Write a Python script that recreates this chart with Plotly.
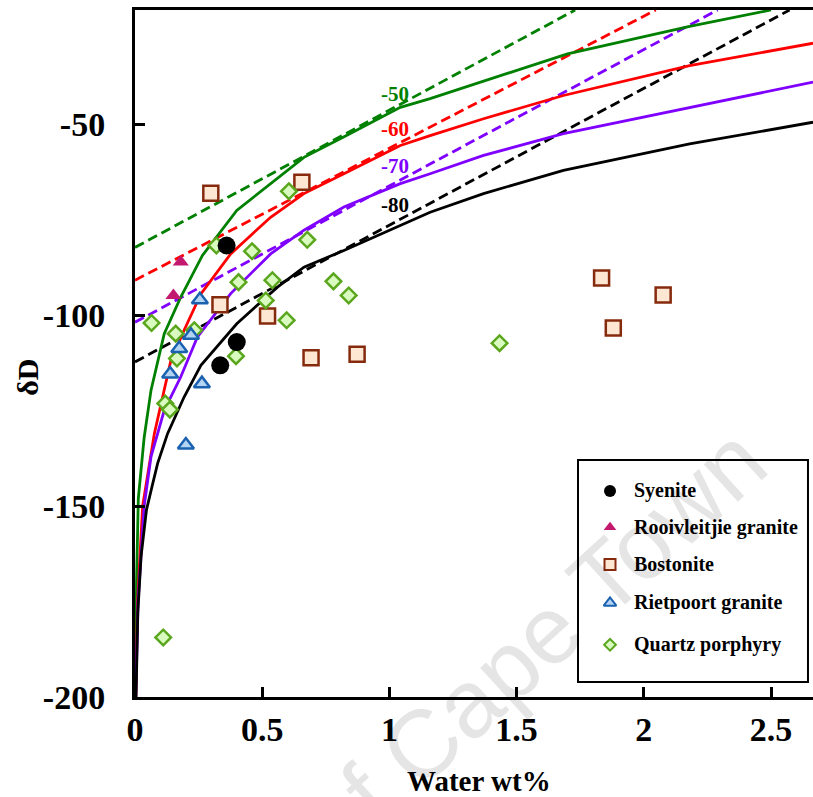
import plotly.graph_objects as go

# ---- axis ticks ----
x_tickvals = [0, 0.5, 1, 1.5, 2, 2.5]
x_ticktext = ["0", "0.5", "1", "1.5", "2", "2.5"]
y_tickvals = [-200, -150, -100, -50]
y_ticktext = ["-200", "-150", "-100", "-50"]

# ---- open-system degassing curves (initial δD -50, -60, -70, -80) ----
curve_names = ["-50", "-60", "-70", "-80"]
curve_colors = ["#008000", "#ff0000", "#7f00ff", "#000000"]

open50_x = [0.002, 0.006, 0.013, 0.036, 0.063, 0.115, 0.18, 0.265, 0.40, 0.546,
            0.664, 0.82, 1.043, 1.16, 1.70, 2.18, 2.50]
open50_y = [-200, -170, -148, -132, -119.6, -104.8, -95.2, -84.3, -72.5, -64.7,
            -58.6, -53.3, -45.5, -43.2, -31.5, -24.3, -20]

open60_x = [0.003, 0.01, 0.03, 0.076, 0.141, 0.193, 0.259, 0.376, 0.533, 0.664,
            0.821, 1.043, 1.16, 1.37, 1.684, 2.18, 2.665]
open60_y = [-200, -175, -150, -131, -111.8, -103.9, -94.4, -83.9, -74.3, -68.1,
            -62.9, -55.5, -52.9, -48.5, -42.4, -34.6, -28.7]

open70_x = [0.003, 0.012, 0.036, 0.063, 0.115, 0.18, 0.245, 0.376, 0.533, 0.664,
            0.821, 1.043, 1.16, 1.37, 1.684, 2.18, 2.665]
open70_y = [-200, -175, -150, -137, -124.9, -116.1, -105.7, -94.3, -83.9, -77.7,
            -71.6, -65.5, -62.9, -58.1, -52.4, -45.5, -38.9]

open80_x = [0.004, 0.011, 0.024, 0.045, 0.07, 0.089, 0.128, 0.193, 0.259, 0.40,
            0.56, 0.664, 0.821, 1.043, 1.16, 1.37, 1.684, 2.18, 2.665]
open80_y = [-200, -178, -163, -151, -144, -138.8, -131, -121.4, -113.1, -102.2,
            -92.6, -87.4, -83, -76.4, -73, -68.1, -62, -55.1, -49.4]

# ---- closed-system degassing lines ----
closed50_x = [0, 1.73]
closed50_y = [-82.2, -20]
closed60_x = [0, 2.047]
closed60_y = [-90.8, -20]
closed70_x = [0, 2.29]
closed70_y = [-101.8, -20]
closed80_x = [0, 2.573]
closed80_y = [-112.2, -20]

# ---- samples ----
syenite_x = [0.36, 0.40, 0.335]
syenite_y = [-81.7, -107.0, -113.1]

rooivleitjie_x = [0.18, 0.151]
rooivleitjie_y = [-86.0, -94.8]

bostonite_x = [0.298, 0.656, 0.334, 0.521, 0.692, 0.873, 1.834, 2.076, 1.88]
bostonite_y = [-68.0, -65.1, -97.2, -100.2, -111.1, -110.2, -90.2, -94.7, -103.3]

rietpoort_x = [0.255, 0.22, 0.174, 0.138, 0.263, 0.20]
rietpoort_y = [-95.9, -105.2, -108.7, -115.4, -117.9, -134.0]

quartz_x = [0.605, 0.32, 0.46, 0.677, 0.407, 0.54, 0.78, 0.84, 0.514, 0.596,
            0.065, 0.16, 0.233, 0.165, 0.397, 0.119, 0.137, 1.433, 0.111]
quartz_y = [-67.5, -81.7, -83.2, -80.2, -91.3, -90.8, -91.1, -94.8, -96.1, -101.3,
            -102.0, -104.8, -103.9, -111.3, -110.7, -123.1, -124.7, -107.3, -184.4]

legend_names = ["Syenite", "Rooivleitjie granite", "Bostonite",
                "Rietpoort granite", "Quartz porphyry"]

SERIF = "Liberation Serif"

fig = go.Figure()

closed = [(closed50_x, closed50_y), (closed60_x, closed60_y),
          (closed70_x, closed70_y), (closed80_x, closed80_y)]
opened = [(open50_x, open50_y), (open60_x, open60_y),
          (open70_x, open70_y), (open80_x, open80_y)]

for (xs, ys), col in zip(closed, curve_colors):
    fig.add_trace(go.Scatter(x=xs, y=ys, mode="lines", showlegend=False,
                             line=dict(color=col, width=2.8, dash="10px,5px")))
for (xs, ys), col in zip(opened, curve_colors):
    fig.add_trace(go.Scatter(x=xs, y=ys, mode="lines", showlegend=False,
                             line=dict(color=col, width=2.8)))

# marker styles: (symbol, size, fill, edge, edge width)
styles = [
    ("circle", 18, "#000000", "#000000", 0),
    ("triangle-up", 14, "#c2186e", "#c2186e", 0),
    ("square", 15, "#fde6d2", "#862a0e", 2.5),
    ("triangle-up", 14, "#b4d4f4", "#1a62b0", 2.5),
    ("diamond", 12, "#d9fbc0", "#5aa61c", 2.5),
]
samples = [(syenite_x, syenite_y), (rooivleitjie_x, rooivleitjie_y),
           (bostonite_x, bostonite_y), (rietpoort_x, rietpoort_y),
           (quartz_x, quartz_y)]
draw_order = [2, 4, 3, 1, 0]
for i in draw_order:
    xs, ys = samples[i]
    sym, size, fill, edge, lw = styles[i]
    fig.add_trace(go.Scatter(x=xs, y=ys, mode="markers", showlegend=False,
                             name=legend_names[i], cliponaxis=False,
                             marker=dict(symbol=sym, size=size, color=fill,
                                         line=dict(color=edge, width=lw))))

# ---- legend box, drawn on an overlay axis spanning the plot area ----
leg_marker_x = 0.7006
leg_text_x = 0.733
leg_rows = [0.300, 0.247, 0.193, 0.137, 0.076]
leg_sizes = [12, 11, 11, 11, 9]
for i, name in enumerate(legend_names):
    sym, _, fill, edge, lw = styles[i]
    fig.add_trace(go.Scatter(x=[leg_marker_x], y=[leg_rows[i]], xaxis="x2", yaxis="y2",
                             mode="markers", showlegend=False, cliponaxis=False,
                             marker=dict(symbol=sym, size=leg_sizes[i], color=fill,
                                         line=dict(color=edge, width=min(lw, 2)))))
    fig.add_annotation(x=leg_text_x, y=leg_rows[i], xref="paper", yref="paper",
                       text=name, showarrow=False, xanchor="left", yanchor="middle",
                       font=dict(family=SERIF, size=20, color="black", weight="bold"))

fig.add_shape(type="rect", xref="paper", yref="paper",
              x0=0.6534, x1=0.9926, y0=0.0218, y1=0.345,
              line=dict(color="black", width=2), fillcolor="white", layer="below")

# ---- curve labels ----
label_pos = [(1.0235, -41.9), (1.0235, -51.3), (1.0235, -61.0), (1.0235, -71.2)]
for name, col, (lx, ly) in zip(curve_names, curve_colors, label_pos):
    fig.add_annotation(x=lx, y=ly, text=name, showarrow=False,
                       xanchor="center", yanchor="middle",
                       font=dict(family=SERIF, size=21, color=col, weight="bold"))

# ---- axis titles ----
fig.add_annotation(x=0.507, y=-0.122, xref="paper", yref="paper", text="Water wt%",
                   showarrow=False, xanchor="center", yanchor="middle",
                   font=dict(family=SERIF, size=29, color="black", weight="bold"))
fig.add_annotation(x=-0.159, y=0.465, xref="paper", yref="paper", text="δD",
                   showarrow=False, xanchor="center", yanchor="middle", textangle=-90,
                   font=dict(family=SERIF, size=30, color="black", weight="bold"))

# ---- watermark ----
fig.add_annotation(x=0.343, y=-0.140, xref="paper", yref="paper",
                   text="University of Cape Town", showarrow=False,
                   xanchor="center", yanchor="middle", textangle=-42.3,
                   font=dict(family="Liberation Sans", size=96,
                             color="rgba(0,0,0,0.10)"))

axis_common = dict(showgrid=False, zeroline=False, showline=True,
                   linecolor="black", linewidth=3, ticks="inside", ticklen=10,
                   tickwidth=2.5, tickcolor="black",
                   tickfont=dict(family=SERIF, size=34, color="black", weight="bold"))

fig.update_layout(
    width=813, height=797,
    margin=dict(l=135, r=0, t=10, b=100),
    paper_bgcolor="white", plot_bgcolor="white",
    showlegend=False,
    xaxis=dict(range=[0, 2.665], tickvals=x_tickvals, ticktext=x_ticktext,
               mirror=True, ticklabelstandoff=0, **axis_common),
    yaxis=dict(range=[-200, -20], tickvals=y_tickvals, ticktext=y_ticktext,
               ticklabelstandoff=20, **axis_common),
    xaxis2=dict(overlaying="x", range=[0, 1], visible=False, anchor="y2"),
    yaxis2=dict(overlaying="y", range=[0, 1], visible=False, anchor="x2"),
)

fig.write_html("out.html")
